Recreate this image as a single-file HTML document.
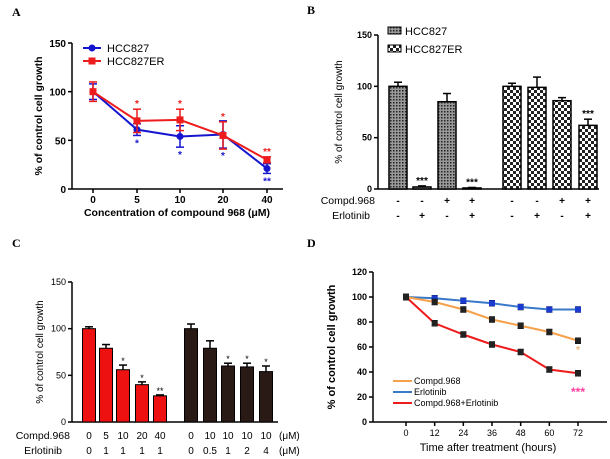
<!DOCTYPE html>
<html><head><meta charset="utf-8"><style>
html,body{margin:0;padding:0;background:#fff;}
svg{display:block;font-family:"Liberation Sans",Arial,sans-serif;}
</style></head><body>
<svg id="fig" width="610" height="459" viewBox="0 0 610 459" xmlns="http://www.w3.org/2000/svg">
<defs>
<pattern id="pat1" width="3" height="3" patternUnits="userSpaceOnUse"><rect width="3" height="3" fill="#999"/><rect width="1.5" height="1.5" fill="#222"/></pattern>
<pattern id="pat2" width="6" height="6" patternUnits="userSpaceOnUse"><rect width="6" height="6" fill="#fff"/><rect width="3" height="3" fill="#222"/><rect x="3" y="3" width="3" height="3" fill="#222"/></pattern>
</defs>
<g id="A"></g>
<g id="B"></g>
<g id="C"></g>
<g id="D"></g>
</svg>
<script>
// Panel A data
const aCats = ["0","5","10","20","40"];
const aHCC = [100,61,54,56,21];
const aHCCerr = [8,6,11,14,5];
const aER = [100,70,71,55,30];
const aERerr = [10,12,11,14,3];
const aHCCstars = ["","*","*","*","**"];
const aERstars = ["","*","*","*","**"];
// Panel B data
const bHCC = [100,2,85,1];
const bHCCerr = [4,1,8,0.5];
const bER = [100,99,86,62];
const bERerr = [3,10,3,6];
const bStars = ["","***","","***","","","","***"];
const bCompd = ["-","-","+","+","-","-","+","+"];
const bErlo = ["-","+","-","+","-","+","-","+"];
// Panel C data
const cRed = [100,79,56,40,28];
const cRedErr = [2,4,5,3,1];
const cBlack = [100,79,60,59,54];
const cBlackErr = [5,8,3,4,6];
const cStars = ["","","*","*","**","","","*","*","*"];
const cCompd = ["0","5","10","20","40","0","10","10","10","10"];
const cErlo = ["0","1","1","1","1","0","0.5","1","2","4"];
// Panel D data
const dHours = [0,12,24,36,48,60,72];
const dCompd = [100,96,90,82,77,72,65];
const dErlo = [100,99,97,95,92,90,90];
const dCombo = [100,79,70,62,56,42,39];

const NS="http://www.w3.org/2000/svg";
function mk(p,tag,at,txt){const e=document.createElementNS(NS,tag);for(const k in at)e.setAttribute(k,at[k]);if(txt!==undefined)e.textContent=txt;p.appendChild(e);return e;}
function ln(p,x1,y1,x2,y2,c,w){return mk(p,"line",{x1,y1,x2,y2,stroke:c,"stroke-width":w});}
function errbar(p,x,y1,y2,c,w){ln(p,x,y1,x,y2,c,1.5);ln(p,x-w,y1,x+w,y1,c,1.5);ln(p,x-w,y2,x+w,y2,c,1.5);}

// ---------- Panel A
(function(){
const g=document.getElementById("A");
const y=v=>189-(v/150)*146;
const xs=[93,137,180,223,267];
let t=mk(g,"text",{x:12,y:16,"font-size":12,"font-weight":"bold","font-family":"Liberation Serif, serif"},"A");

ln(g,72,43,72,189,"#000",1.5);ln(g,72,189,283,189,"#000",1.5);
[0,50,100,150].forEach(v=>{ln(g,68,y(v),72,y(v),"#000",1.5);
 const e=mk(g,"text",{x:66,y:y(v)+4,"font-size":10,"font-weight":"bold","text-anchor":"end"},v);
 });
aCats.forEach((c,i)=>{ln(g,xs[i],189,xs[i],193,"#000",1.5);
 const e=mk(g,"text",{x:xs[i],y:203,"font-size":10,"font-weight":"bold","text-anchor":"middle"},c);
 });
t=mk(g,"text",{x:177,y:216,"font-size":10.5,"font-weight":"bold","text-anchor":"middle"},"Concentration of compound 968 (μM)");

t=mk(g,"text",{x:0,y:0,"font-size":10.5,"font-weight":"bold","text-anchor":"middle",transform:"translate(42,116) rotate(-90)"},"% of control cell growth");

function series(vals,errs,stars,col,sq,below){
 const pts=vals.map((v,i)=>xs[i]+","+y(v)).join(" ");
 const pl=mk(g,"polyline",{points:pts,fill:"none",stroke:col,"stroke-width":2});
 
 vals.forEach((v,i)=>{errbar(g,xs[i],y(v+errs[i]),y(v-errs[i]),col,4);
  const m=sq?mk(g,"rect",{x:xs[i]-3.5,y:y(v)-3.5,width:7,height:7,fill:col}):mk(g,"circle",{cx:xs[i],cy:y(v),r:3.5,fill:col});
  
  if(stars[i]){const s=mk(g,"text",{x:xs[i],y:below?y(v-errs[i])+11:y(v+errs[i])-2,"font-size":10,"font-weight":"bold","text-anchor":"middle",fill:col},stars[i]);
   }});
}
series(aHCC,aHCCerr,aHCCstars,"#1515d0",false,true);
series(aER,aERerr,aERstars,"#ee1c1c",true,false);
let l=mk(g,"g",{});
ln(l,83,48,101,48,"#1515d0",2);mk(l,"circle",{cx:92,cy:48,r:3.5,fill:"#1515d0"});
mk(l,"text",{x:107,y:52,"font-size":11},"HCC827");
ln(l,83,61,101,61,"#ee1c1c",2);mk(l,"rect",{x:88.5,y:57.5,width:7,height:7,fill:"#ee1c1c"});
mk(l,"text",{x:107,y:65,"font-size":11},"HCC827ER");
})();

// ---------- Panel B
(function(){
const g=document.getElementById("B");
const y=v=>189-(v/150)*154;
const xs=[398,422,447,472,512,537,562,588];
let t=mk(g,"text",{x:307,y:14,"font-size":12,"font-weight":"bold","font-family":"Liberation Serif, serif"},"B");

ln(g,378,35,378,189,"#000",1.5);ln(g,378,189,599,189,"#000",1.5);
[0,50,100,150].forEach(v=>{ln(g,374,y(v),378,y(v),"#000",1.5);
 const e=mk(g,"text",{x:372,y:y(v)+3,"font-size":9,"font-weight":"bold","text-anchor":"end"},v);
 });
t=mk(g,"text",{x:0,y:0,"font-size":10,"text-anchor":"middle",transform:"translate(342,112) rotate(-90)"},"% of control cell growth");

const vals=bHCC.concat(bER), errs=bHCCerr.concat(bERerr);
vals.forEach((v,i)=>{const x=xs[i];
 ln(g,x,y(v+errs[i]),x,y(v),"#000",1.5);ln(g,x-4,y(v+errs[i]),x+4,y(v+errs[i]),"#000",1.5);
 const r=mk(g,"rect",{x:x-9,y:y(v),width:18,height:189-y(v),fill:i<4?"url(#pat1)":"url(#pat2)",stroke:"#000","stroke-width":1.5});
 
 if(bStars[i]){const s=mk(g,"text",{x,y:y(v+errs[i])-2,"font-size":10,"font-weight":"bold","text-anchor":"middle"},bStars[i]);
  }
 let e=mk(g,"text",{x,y:204,"font-size":10,"font-weight":"bold","text-anchor":"middle"},bCompd[i]);
 
 e=mk(g,"text",{x,y:219,"font-size":10,"font-weight":"bold","text-anchor":"middle"},bErlo[i]);
 });
t=mk(g,"text",{x:375,y:204,"font-size":10.5,"text-anchor":"end"},"Compd.968");
t=mk(g,"text",{x:370,y:219,"font-size":10.5,"text-anchor":"end"},"Erlotinib");
let l=mk(g,"g",{});
mk(l,"rect",{x:388,y:27,width:13,height:7,fill:"url(#pat1)",stroke:"#000"});
mk(l,"text",{x:405,y:35,"font-size":11},"HCC827");
mk(l,"rect",{x:388,y:45,width:13,height:7,fill:"url(#pat2)",stroke:"#000"});
mk(l,"text",{x:405,y:53,"font-size":11},"HCC827ER");
})();

// ---------- Panel C
(function(){
const g=document.getElementById("C");
const y=v=>422-(v/150)*140;
const xs=[89,106,123,142,160,191,210,228,247,266];
let t=mk(g,"text",{x:12,y:247,"font-size":12,"font-weight":"bold","font-family":"Liberation Serif, serif"},"C");

ln(g,72,282,72,422,"#000",1.5);ln(g,72,422,278,422,"#000",1.5);
[0,50,100,150].forEach(v=>{ln(g,68,y(v),72,y(v),"#000",1.5);
 const e=mk(g,"text",{x:66,y:y(v)+3,"font-size":9,"text-anchor":"end"},v);
 });
t=mk(g,"text",{x:0,y:0,"font-size":10,"text-anchor":"middle",transform:"translate(43,352) rotate(-90)"},"% of control cell growth");

const vals=cRed.concat(cBlack), errs=cRedErr.concat(cBlackErr);
vals.forEach((v,i)=>{const x=xs[i];
 ln(g,x,y(v+errs[i]),x,y(v),"#000",1.5);ln(g,x-4,y(v+errs[i]),x+4,y(v+errs[i]),"#000",1.5);
 const r=mk(g,"rect",{x:x-6.5,y:y(v),width:13,height:422-y(v),fill:i<5?"#ee1111":"#2a1a16",stroke:"#000","stroke-width":1});
 
 if(cStars[i]){const s=mk(g,"text",{x,y:y(v+errs[i])-1,"font-size":9,"text-anchor":"middle"},cStars[i]);
  }
 let e=mk(g,"text",{x,y:439,"font-size":10,"text-anchor":"middle"},cCompd[i]);
 
 e=mk(g,"text",{x,y:454,"font-size":10,"text-anchor":"middle"},cErlo[i]);
 });
mk(g,"text",{x:279,y:439,"font-size":10},"(μM)");mk(g,"text",{x:279,y:454,"font-size":10},"(μM)");
t=mk(g,"text",{x:70,y:439,"font-size":10.5,"text-anchor":"end"},"Compd.968");
t=mk(g,"text",{x:62,y:454,"font-size":10.5,"text-anchor":"end"},"Erlotinib");
})();

// ---------- Panel D
(function(){
const g=document.getElementById("D");
const y=v=>422-(v/120)*150;
const x=h=>406+(h/72)*172;
let t=mk(g,"text",{x:307,y:247,"font-size":12,"font-weight":"bold","font-family":"Liberation Serif, serif"},"D");

ln(g,373,272,373,422,"#000",1.5);ln(g,373,422,607,422,"#000",1.5);
[0,20,40,60,80,100,120].forEach(v=>{ln(g,369,y(v),373,y(v),"#000",1.5);
 const e=mk(g,"text",{x:367,y:y(v)+3,"font-size":9,"font-weight":"bold","text-anchor":"end"},v);
 });
dHours.forEach(h=>{ln(g,x(h),422,x(h),426,"#000",1.5);
 const e=mk(g,"text",{x:x(h),y:436,"font-size":9,"text-anchor":"middle"},h);
 });
t=mk(g,"text",{x:488,y:451,"font-size":11,"text-anchor":"middle"},"Time after treatment (hours)");

t=mk(g,"text",{x:0,y:0,"font-size":11,"font-weight":"bold","text-anchor":"middle",transform:"translate(335,347) rotate(-90)"},"% of control cell growth");

function series(vals,col,mcol,name){
 const pl=mk(g,"polyline",{points:vals.map((v,i)=>x(dHours[i])+","+y(v)).join(" "),fill:"none",stroke:col,"stroke-width":2});
 
 vals.forEach((v,i)=>{errbar(g,x(dHours[i]),y(v+2),y(v-2),"#000",3);
  const m=mk(g,"rect",{x:x(dHours[i])-3,y:y(v)-3,width:6,height:6,fill:mcol});
  });
}
series(dErlo,"#3a78c8","#1a3ad0","erlotinib-line");
series(dCompd,"#f5a04a","#222","compd968-line");
series(dCombo,"#ee1c1c","#222","combo-line");
t=mk(g,"text",{x:x(72),y:y(55),"font-size":11,"text-anchor":"middle",fill:"#f0a050"},"*");
t=mk(g,"text",{x:x(72),y:y(21),"font-size":12,"font-weight":"bold","text-anchor":"middle",fill:"#ff3da0"},"***");
let l=mk(g,"g",{});
ln(l,393,381,412,381,"#f5a04a",2);mk(l,"text",{x:414,y:384,"font-size":9},"Compd.968");
ln(l,393,392,412,392,"#3a78c8",2);mk(l,"text",{x:414,y:395,"font-size":9},"Erlotinib");
ln(l,393,403,412,403,"#ee1c1c",2);mk(l,"text",{x:414,y:406,"font-size":9},"Compd.968+Erlotinib");
})();
</script>
</body></html>
